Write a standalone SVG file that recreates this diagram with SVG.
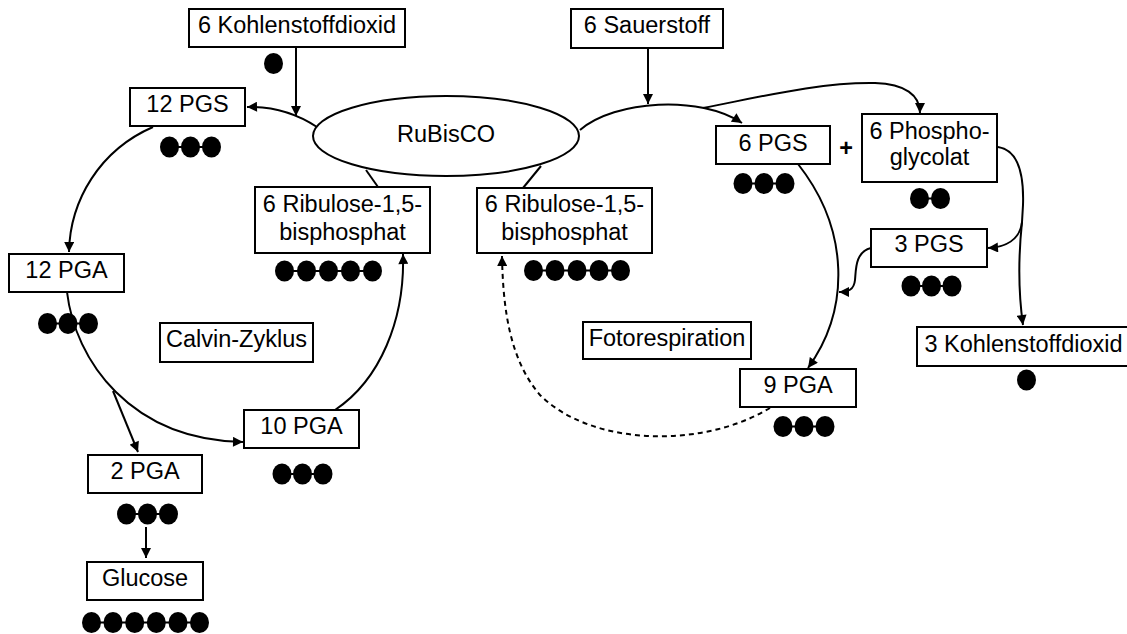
<svg xmlns="http://www.w3.org/2000/svg" width="1127" height="634" viewBox="0 0 1127 634">
<style>
.box{fill:#fff;stroke:#000;stroke-width:2}
.t{font-family:"Liberation Sans",Arial,sans-serif;font-size:23.5px;fill:#000;text-anchor:middle}
.c{fill:none;stroke:#000;stroke-width:2}
.d{fill:none;stroke:#000;stroke-width:2;stroke-dasharray:5,4}
.bond{stroke:#000;stroke-width:2}
.dot{fill:#000}
</style>
<defs>
<marker id="ah" viewBox="0 0 10 10" refX="10" refY="5" markerWidth="11" markerHeight="10" markerUnits="userSpaceOnUse" orient="auto">
<path d="M0,0 L10,5 L0,10 z" fill="#000"/>
</marker>
<ellipse id="e" rx="9.5" ry="10.5"/>
</defs>
<rect width="1127" height="634" fill="#fff"/>

<g id="connectors">
<path class="c" d="M296,47 L296,116" marker-end="url(#ah)"/>
<path class="c" d="M317,127 Q285,106 247,107" marker-end="url(#ah)"/>
<path class="c" d="M153,127 C100,150 70,200 69,252" marker-end="url(#ah)"/>
<path class="c" d="M67,292 C75,360 130,440 243,442" marker-end="url(#ah)"/>
<path class="c" d="M113,391 L138,452" marker-end="url(#ah)"/>
<path class="c" d="M146,527 L146,558" marker-end="url(#ah)"/>
<path class="c" d="M335,410 C380,380 405,320 403,254" marker-end="url(#ah)"/>
<path class="c" d="M366,170 L378,187"/>
<path class="c" d="M541,166 L523,188"/>
<path class="c" d="M648,48 L648,104" marker-end="url(#ah)"/>
<path class="c" d="M580,130 C615,100 700,95 742,123" marker-end="url(#ah)"/>
<path class="c" d="M703,108 C760,97 820,82 875,83 C905,84 920,95 920,113" marker-end="url(#ah)"/>
<path class="c" d="M798,164 C850,230 850,310 808,368" marker-end="url(#ah)"/>
<path class="c" d="M998,147 C1018,150 1024,175 1023,205 L1022,222"/>
<path class="c" d="M1022,222 C1020,240 1005,247 988,248" marker-end="url(#ah)"/>
<path class="c" d="M1022,222 C1018,260 1018,290 1023,325" marker-end="url(#ah)"/>
<path class="c" d="M871,248 C855,252 856,270 855,280 C854,290 848,292 839,292" marker-end="url(#ah)"/>
<path class="d" d="M770,408 C700,450 590,445 540,395 C510,360 503,310 502,256" marker-end="url(#ah)"/>
</g>

<g id="rubisco">
<ellipse cx="446" cy="136" rx="133" ry="40" class="box"/>
<text class="t" x="446" y="142">RuBisCO</text>
</g>

<g id="co2-in">
<rect class="box" x="189" y="9" width="216" height="38"/>
<text class="t" x="297" y="33">6 Kohlenstoffdioxid</text>
<use href="#e" class="dot" x="273.5" y="63.5"/>
</g>

<g id="o2">
<rect class="box" x="571" y="9" width="152" height="39"/>
<text class="t" x="647" y="33">6 Sauerstoff</text>
</g>

<g id="pgs12">
<rect class="box" x="130" y="88" width="115" height="38"/>
<text class="t" x="187.5" y="112">12 PGS</text>
<line class="bond" x1="169.5" y1="147" x2="211.5" y2="147"/>
<use href="#e" class="dot" x="169.5" y="147"/><use href="#e" class="dot" x="190.5" y="147"/><use href="#e" class="dot" x="211.5" y="147"/>
</g>

<g id="pga12">
<rect class="box" x="9" y="254" width="115" height="38"/>
<text class="t" x="66.5" y="278">12 PGA</text>
<line class="bond" x1="47.5" y1="323.5" x2="88.5" y2="323.5"/>
<use href="#e" class="dot" x="47.5" y="323.5"/><use href="#e" class="dot" x="68" y="323.5"/><use href="#e" class="dot" x="88.5" y="323.5"/>
</g>

<g id="calvin">
<rect class="box" x="160" y="323" width="153" height="39"/>
<text class="t" x="236.5" y="347">Calvin-Zyklus</text>
</g>

<g id="pga10">
<rect class="box" x="244" y="410" width="115" height="38"/>
<text class="t" x="301.5" y="433.5">10 PGA</text>
<line class="bond" x1="282" y1="474" x2="323" y2="474"/>
<use href="#e" class="dot" x="282" y="474"/><use href="#e" class="dot" x="302.5" y="474"/><use href="#e" class="dot" x="323" y="474"/>
</g>

<g id="pga2">
<rect class="box" x="88" y="455" width="114" height="38"/>
<text class="t" x="145" y="479">2 PGA</text>
<line class="bond" x1="126.5" y1="514" x2="168.5" y2="514"/>
<use href="#e" class="dot" x="126.5" y="514"/><use href="#e" class="dot" x="147.5" y="514"/><use href="#e" class="dot" x="168.5" y="514"/>
</g>

<g id="glucose">
<rect class="box" x="87" y="562" width="116" height="38"/>
<text class="t" x="145" y="585.5">Glucose</text>
<line class="bond" x1="91.5" y1="622.5" x2="199.5" y2="622.5"/>
<use href="#e" class="dot" x="91.5" y="622.5"/><use href="#e" class="dot" x="113" y="622.5"/><use href="#e" class="dot" x="134.7" y="622.5"/><use href="#e" class="dot" x="156.3" y="622.5"/><use href="#e" class="dot" x="178" y="622.5"/><use href="#e" class="dot" x="199.5" y="622.5"/>
</g>

<g id="rubp-left">
<rect class="box" x="255" y="187" width="175" height="66"/>
<text class="t" x="342.5" y="212">6 Ribulose-1,5-</text>
<text class="t" x="342.5" y="240">bisphosphat</text>
<line class="bond" x1="284.5" y1="271" x2="372.5" y2="271"/>
<use href="#e" class="dot" x="284.5" y="271"/><use href="#e" class="dot" x="306.5" y="271"/><use href="#e" class="dot" x="328.5" y="271"/><use href="#e" class="dot" x="350.5" y="271"/><use href="#e" class="dot" x="372.5" y="271"/>
</g>

<g id="rubp-right">
<rect class="box" x="477" y="188" width="175" height="65"/>
<text class="t" x="564.5" y="212">6 Ribulose-1,5-</text>
<text class="t" x="564.5" y="240">bisphosphat</text>
<line class="bond" x1="533.5" y1="270.5" x2="620.5" y2="270.5"/>
<use href="#e" class="dot" x="533.5" y="270.5"/><use href="#e" class="dot" x="555" y="270.5"/><use href="#e" class="dot" x="577" y="270.5"/><use href="#e" class="dot" x="599" y="270.5"/><use href="#e" class="dot" x="620.5" y="270.5"/>
</g>

<g id="fotorespiration">
<rect class="box" x="583" y="322" width="168" height="37"/>
<text class="t" x="667" y="345.5">Fotorespiration</text>
</g>

<g id="pgs6">
<rect class="box" x="716" y="126" width="114" height="38"/>
<text class="t" x="773" y="150.5">6 PGS</text>
<line class="bond" x1="743" y1="183.5" x2="785" y2="183.5"/>
<use href="#e" class="dot" x="743" y="183.5"/><use href="#e" class="dot" x="764" y="183.5"/><use href="#e" class="dot" x="785" y="183.5"/>
</g>

<g id="plus">
<text class="t" x="846" y="156" font-weight="bold">+</text>
</g>

<g id="phosphoglycolat">
<rect class="box" x="862" y="114" width="135" height="68"/>
<text class="t" x="929.5" y="138.5">6 Phospho-</text>
<text class="t" x="929.5" y="165">glycolat</text>
<line class="bond" x1="919.5" y1="198.5" x2="940.5" y2="198.5"/>
<use href="#e" class="dot" x="919.5" y="198.5"/><use href="#e" class="dot" x="940.5" y="198.5"/>
</g>

<g id="pgs3">
<rect class="box" x="871" y="229" width="116" height="38"/>
<text class="t" x="929" y="252">3 PGS</text>
<line class="bond" x1="911" y1="286" x2="952" y2="286"/>
<use href="#e" class="dot" x="911" y="286"/><use href="#e" class="dot" x="931.5" y="286"/><use href="#e" class="dot" x="952" y="286"/>
</g>

<g id="co2-out">
<rect class="box" x="917" y="327" width="213" height="39"/>
<text class="t" x="1023.5" y="351.5">3 Kohlenstoffdioxid</text>
<use href="#e" class="dot" x="1026.5" y="380"/>
</g>

<g id="pga9">
<rect class="box" x="740" y="369" width="116" height="38"/>
<text class="t" x="798" y="392.5">9 PGA</text>
<line class="bond" x1="783" y1="426.5" x2="825" y2="426.5"/>
<use href="#e" class="dot" x="783" y="426.5"/><use href="#e" class="dot" x="804" y="426.5"/><use href="#e" class="dot" x="825" y="426.5"/>
</g>
</svg>
